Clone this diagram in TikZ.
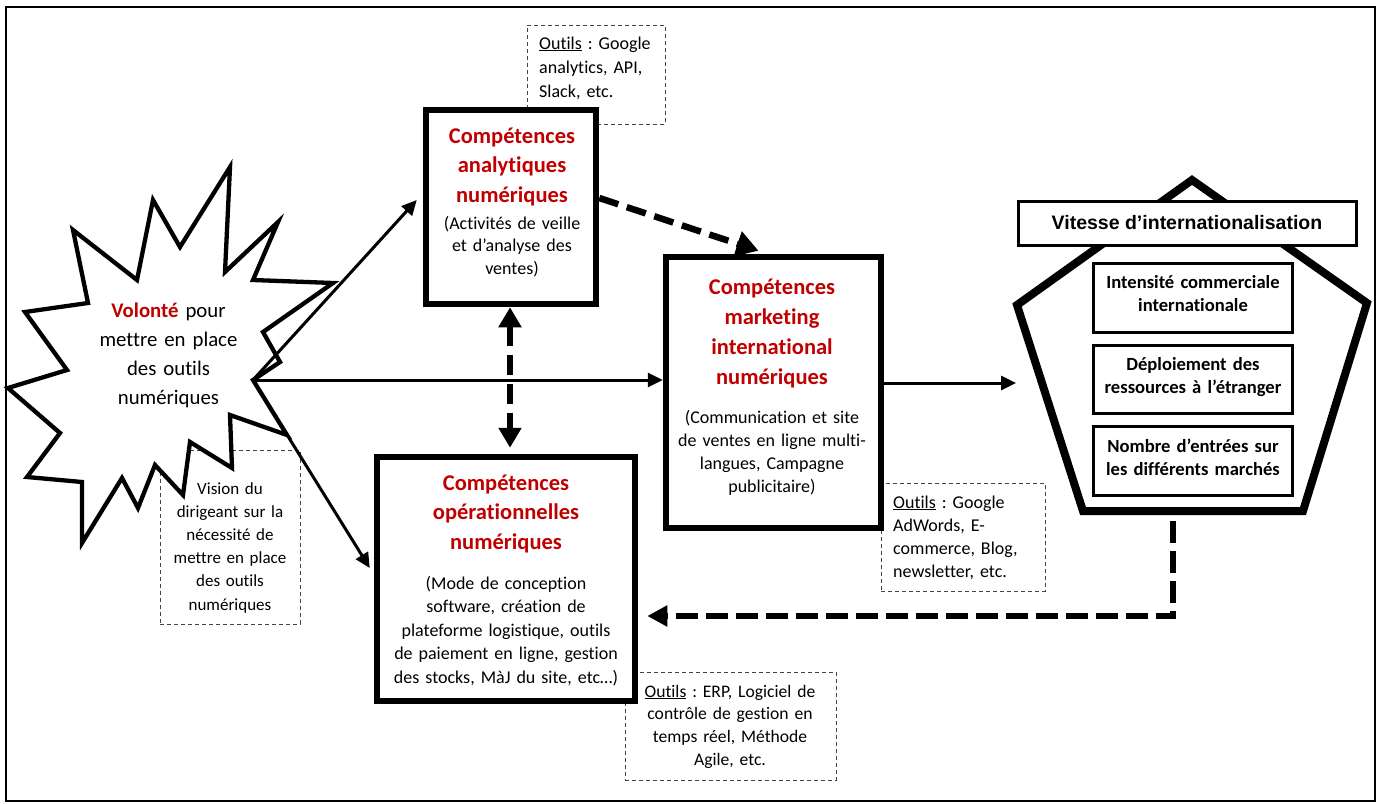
\documentclass[tikz,border=0pt]{standalone}
\usepackage{fontspec}
\setmainfont{Carlito}[Ligatures=NoCommon]
\newfontfamily\arialfont{Liberation Sans}
\usetikzlibrary{arrows.meta,calc}
\definecolor{rouge}{HTML}{C00000}
\definecolor{dgray}{HTML}{444444}
\begin{document}
\frenchspacing
\begin{tikzpicture}[x=1pt,y=-1pt,
  mainbox/.style={draw, line width=6.5pt, fill=white, inner sep=0pt},
  thinbox/.style={draw=dgray, dash pattern=on 4pt off 3pt, line width=1pt, fill=white, inner sep=0pt},
  innerbox/.style={draw, line width=3pt, fill=white, inner sep=0pt},
  ttl/.style={font=\fontsize{22.5}{29.5}\selectfont\bfseries, text=rouge, align=center, text width=320pt, inner sep=0pt, anchor=base},
  body/.style={font=\fontsize{18}{23}\selectfont, align=center, text width=320pt, inner sep=0pt, anchor=base},
  tool/.style={font=\fontsize{18}{23.5}\selectfont, align=left, text width=200pt, inner sep=0pt, anchor=base west},
  crit/.style={font=\fontsize{18.6}{23}\selectfont\bfseries, align=center, text width=220pt, inner sep=0pt, anchor=base},
  solidarrow/.style={line width=3pt, -{Triangle[length=15pt,width=14pt]}},
  bigdash/.style={line width=6pt, dash pattern=on 20pt off 9pt},
]
\useasboundingbox (0,0) rectangle (1381,803);
\draw[line width=2pt] (6,7) rectangle (1375,801);

% dashed tool boxes (behind main boxes)
\node[thinbox, minimum width=138, minimum height=99] (o1) at (596,74.5) {};
\node[tool, font=\fontsize{18}{24}\selectfont] (o1t) at (539,49) {\underline{Outils} : Google\\analytics, API,\\Slack, etc.};
\node[thinbox, minimum width=140, minimum height=174] (vis) at (230,537) {};
\node[body, font=\fontsize{17}{23.2}\selectfont] (vist) at (230,494) {Vision du\\dirigeant sur la\\nécessité de\\mettre en place\\des outils\\numériques};
\node[thinbox, minimum width=164, minimum height=108] (o2) at (963,537) {};
\node[tool, font=\fontsize{18}{23.3}\selectfont] (o2t) at (893,508) {\underline{Outils} : Google\\AdWords, E-\\commerce, Blog,\\newsletter, etc.};
\node[thinbox, minimum width=211, minimum height=108] (o3) at (730.5,726) {};
\node[body, font=\fontsize{17.6}{22.7}\selectfont] (o3t) at (730,697) {\underline{Outils} : ERP, Logiciel de\\contrôle de gestion en\\temps réel, Méthode\\Agile, etc.};

% starburst
\draw[line width=4.3pt, fill=white, line join=miter]
 (230,167) -- (225,272) -- (278,222) -- (253,280) -- (333,283) -- (263,332) -- (280,362) -- (253,380)
 -- (287,435) -- (230,415) -- (232,468) -- (190,442) -- (183,495) -- (155,465) -- (138,508) -- (122,478)
 -- (82,543) -- (82,482) -- (27,477) -- (60,433) -- (8,388) -- (67,370) -- (25,312) -- (88,303)
 -- (73,230) -- (137,280) -- (153,200) -- (180,247) -- cycle;
\coordinate (bc) at (253,380);
\node[body, font=\fontsize{20.8}{29}\selectfont] (volt) at (168.5,317) {{\color{rouge}\bfseries Volonté} pour\\mettre en place\\des outils\\numériques};

% main boxes
\node[mainbox, minimum width=170, minimum height=194] (ana) at (511,207) {};
\node[ttl] (anat) at (512,143) {Compétences\\analytiques\\numériques};
\node[body, font=\fontsize{18}{22.5}\selectfont] (anab) at (512,229) {(Activités de veille\\et d’analyse des\\ventes)};

\node[mainbox, minimum width=215, minimum height=271] (mkt) at (773.5,392.5) {};
\node[ttl, font=\fontsize{22.5}{30}\selectfont\bfseries] (mktt) at (772,294) {Compétences\\marketing\\international\\numériques};
\node[body, font=\fontsize{18}{23.3}\selectfont] (mktb) at (772,423) {(Communication et site\\de ventes en ligne multi-\\langues, Campagne\\publicitaire)};

\node[mainbox, minimum width=258, minimum height=244] (ops) at (506,579) {};
\node[ttl] (opst) at (506,490) {Compétences\\opérationnelles\\numériques};
\node[body, font=\fontsize{18}{23.5}\selectfont] (opsb) at (506,589) {(Mode de conception\\software, création de\\plateforme logistique, outils\\de paiement en ligne, gestion\\des stocks, MàJ du site, etc…)};

% pentagon
\draw[line width=8pt, fill=white, line join=miter] (1192,180) -- (1367,303) -- (1303,511) -- (1083,511) -- (1017,305) -- cycle;
\coordinate (pin) at (1016,383);
\coordinate (pbot) at (1173,521);
\node[draw, line width=3pt, fill=white, inner sep=0pt, minimum width=338, minimum height=44] (vit) at (1187.5,223.5) {};
\node[font=\arialfont\fontsize{19.5}{23}\selectfont\bfseries, inner sep=0pt, anchor=base] (vitt) at (1187,229) {Vitesse d’internationalisation};
\node[innerbox, minimum width=199, minimum height=69] (c1) at (1193,298) {};
\node[crit] (c1t) at (1193,288) {Intensité commerciale\\internationale};
\node[innerbox, minimum width=199, minimum height=68] (c2) at (1193,379.5) {};
\node[crit] (c2t) at (1193,370) {Déploiement des\\ressources à l’étranger};
\node[innerbox, minimum width=199, minimum height=69] (c3) at (1193,461) {};
\node[crit] (c3t) at (1193,452) {Nombre d’entrées sur\\les différents marchés};

% connectors
\draw[solidarrow] (bc) -- ($(ana.west)+(-6,-7)$);
\draw[solidarrow] (bc) -- (bc -| mkt.west);
\draw[solidarrow] (bc) -- ($(ops.west)+(-4,-11)$);
\draw[solidarrow] ($(mkt.east)+(0,-9.5)$) -- (pin);
\draw[bigdash, line width=6.5pt, -{Triangle[length=22pt,width=25pt]}] ($(ana.east)+(0,-9)$) -- ($(mkt.north)+(-15,-3)$);
\draw[bigdash, {Triangle[length=20pt,width=22pt]}-{Triangle[length=20pt,width=22pt]}] ($(ana.south)+(-1,0)$) -- ($(ops.north)+(4,-6)$);
\draw[line width=6pt, dash pattern=on 22pt off 8pt, -{Triangle[length=20pt,width=20pt]}] (pbot) |- ($(ops.east)+(9,37)$);
\end{tikzpicture}
\end{document}
